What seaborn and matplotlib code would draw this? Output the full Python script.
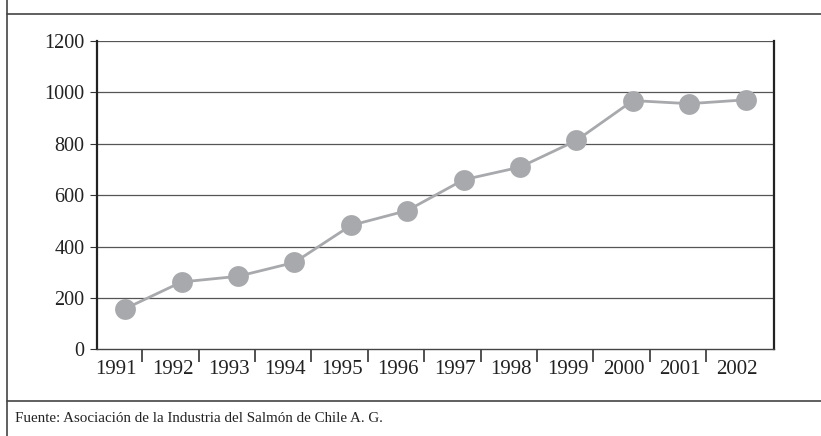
import numpy as np
import pandas as pd
import seaborn as sns
import matplotlib.pyplot as plt
from matplotlib.lines import Line2D

years = ['1991', '1992', '1993', '1994', '1995', '1996',
         '1997', '1998', '1999', '2000', '2001', '2002']
values = [158, 262, 284, 338, 482, 540, 660, 709, 813, 968, 956, 971]
y_ticks = [0, 200, 400, 600, 800, 1000, 1200]

data = pd.DataFrame({'pos': np.arange(len(years)), 'valor': values})

sns.set_style('white')
plt.rcParams['font.family'] = ['Liberation Serif', 'DejaVu Serif']

fig = plt.figure(figsize=(8.21, 4.36), dpi=100)
ax = fig.add_axes([0.1181, 0.1989, 0.8246, 0.7071])

sns.lineplot(data=data, x='pos', y='valor', ax=ax, color='#a8a9ac',
             linewidth=2, marker='o', markersize=15, markeredgewidth=0)

ax.set_xlim(-0.5, 11.5)
ax.set_ylim(0, 1200)
ax.set_xlabel('')
ax.set_ylabel('')

# horizontal grid
for v in y_ticks[1:]:
    ax.axhline(v, color='#555555', linewidth=0.9, zorder=0)

ax.set_yticks(y_ticks)
ax.set_yticklabels([str(v) for v in y_ticks], fontsize=14.5, color='#222222')
ax.tick_params(axis='y', direction='out', length=5, width=0.8, pad=4,
               color='#333333', left=True)

# tick marks between years, labels slightly left of the points
ax.set_xticks(np.arange(len(years) - 1) + 0.3)
ax.set_xticklabels([])
ax.tick_params(axis='x', which='major', direction='out', length=9,
               width=1.2, color='#333333', bottom=True)
ax.set_xticks(np.arange(len(years)) - 0.16, minor=True)
ax.set_xticklabels(years, minor=True, fontsize=15, color='#222222')
ax.tick_params(axis='x', which='minor', length=0, pad=8)

for side in ['left', 'right']:
    ax.spines[side].set_color('#222222')
    ax.spines[side].set_linewidth(1.6)
ax.spines['top'].set_visible(False)
ax.spines['bottom'].set_color('#444444')
ax.spines['bottom'].set_linewidth(1.0)

# outer frame
fig.add_artist(Line2D([0.0085, 1], [0.968, 0.968], color='#444444', lw=1.2))
fig.add_artist(Line2D([0.0085, 1], [0.0803, 0.0803], color='#444444', lw=1.2))
fig.add_artist(Line2D([0.0085, 0.0085], [0, 1], color='#444444', lw=1.2))

# title above the visible area, only its descender shows
fig.text(0.048, 1.016, 'p', fontsize=14, va='baseline', color='#222222')
fig.text(0.018, 0.039, 'Fuente: Asociación de la Industria del Salmón de Chile A. G.',
         fontsize=10.8, va='center', color='#222222')

fig.savefig('out.png', dpi=100)
